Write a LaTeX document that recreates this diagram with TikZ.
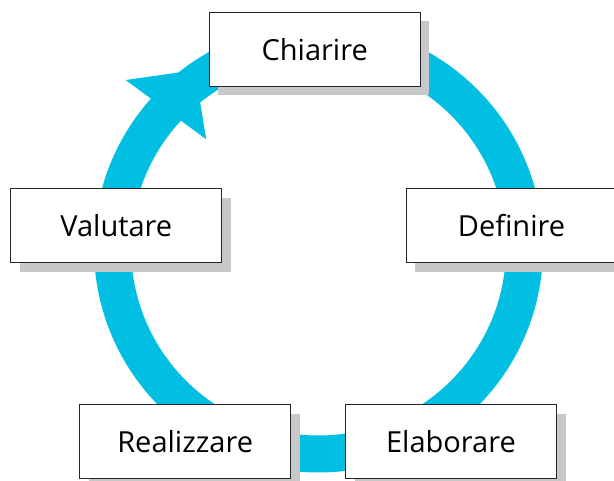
\documentclass[tikz,border=0pt]{standalone}
\usepackage{fontspec}
\setmainfont{Open Sans}
\usetikzlibrary{arrows.meta,shadows}
\definecolor{ringblue}{RGB}{0,191,227}
\definecolor{shadowgray}{RGB}{200,200,202}
\tikzset{
  phase/.style={draw=black!85, line width=1pt, fill=white, rectangle,
    minimum width=211pt, minimum height=74pt, font=\fontsize{29}{35}\selectfont,
    drop shadow={shadow xshift=9pt, shadow yshift=-9pt, fill=shadowgray, opacity=1}},
  ring/.style={draw=ringblue, line width=37pt}
}
\begin{document}
\begin{tikzpicture}[x=1pt, y=1pt]
\useasboundingbox (0,0) rectangle (614,481);
% Ciclo
\coordinate (hub) at (318.5,233);
\draw[ring] (hub) circle[radius=206];
\path (hub) ++(137.8:206) coordinate (back) ++(53.7:49) coordinate (tip);
\draw[ring, -{Triangle[width=100pt, length=49pt, line width=0pt]}] (back) -- (tip);

% Fasi
\node[phase] (chiarire) at (314.7,431.8) {Chiarire};
\node[phase] (definire) at (511.5,255.3) {Definire};
\node[phase] (elaborare) at (451,39) {Elaborare};
\node[phase] (realizzare) at (185.2,39) {Realizzare};
\node[phase] (valutare) at (116.3,255.3) {Valutare};
\end{tikzpicture}
\end{document}
